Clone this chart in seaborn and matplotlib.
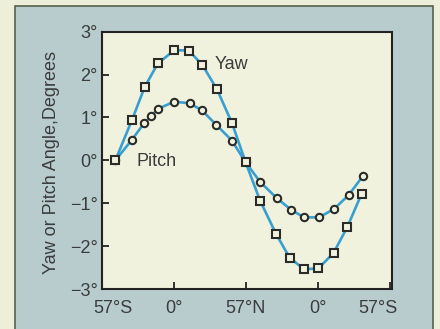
import numpy as np
import pandas as pd
import matplotlib
matplotlib.use("Agg")
import matplotlib.pyplot as plt
import matplotlib.transforms as mtransforms
from matplotlib.patches import Rectangle
import seaborn as sns

# orbit position (0 = 57°S, 1 = 0°, 2 = 57°N, 3 = 0°, 4 = 57°S)
yaw_x = [0.19, 0.42, 0.60, 0.78, 1.01, 1.21, 1.40, 1.60, 1.81, 2.00,
         2.20, 2.42, 2.61, 2.81, 3.01, 3.22, 3.41, 3.61]
yaw_deg = [0.00, 0.94, 1.72, 2.26, 2.57, 2.56, 2.22, 1.66, 0.87, -0.05,
           -0.94, -1.71, -2.27, -2.54, -2.52, -2.16, -1.56, -0.78]

pitch_x = [0.19, 0.42, 0.59, 0.69, 0.78, 1.01, 1.22, 1.39, 1.59, 1.81,
           2.00, 2.20, 2.43, 2.63, 2.81, 3.02, 3.23, 3.43, 3.63]
pitch_deg = [0.00, 0.48, 0.87, 1.04, 1.20, 1.37, 1.33, 1.17, 0.83, 0.46,
             -0.05, -0.50, -0.88, -1.15, -1.33, -1.33, -1.13, -0.81, -0.36]

x_ticks = [0, 1, 2, 3, 4]
x_labels = ["57°S", "0°", "57°N", "0°", "57°S"]
y_ticks = [-3, -2, -1, 0, 1, 2, 3]
y_labels = ["−3°", "−2°", "−1°", "0°", "1°", "2°", "3°"]

df = pd.concat([
    pd.DataFrame({"pos": pitch_x, "angle": pitch_deg, "series": "Pitch"}),
    pd.DataFrame({"pos": yaw_x, "angle": yaw_deg, "series": "Yaw"}),
])

outer_bg = "#edefd8"
panel_bg = "#b8ccce"
plot_bg = "#f1f2de"
line_col = "#389fcf"
text_col = "#3c3c3c"

sns.set_style("ticks")
plt.rcParams["font.family"] = ["Liberation Sans", "DejaVu Sans"]

fig = plt.figure(figsize=(4.4, 3.29), dpi=100, facecolor=outer_bg)
# blue-grey card behind the plot
fig.patches.append(Rectangle((15 / 440, -0.05), (432.7 - 15) / 440, 1.05 - 6 / 329,
                             transform=fig.transFigure, facecolor=panel_bg,
                             edgecolor="#59604f", linewidth=1.2, zorder=-1))

ax = fig.add_axes([101.7 / 440, 1 - 289 / 329, 290 / 440, (289 - 31.7) / 329])
ax.set_zorder(1)
ax.set_facecolor(plot_bg)

sns.lineplot(data=df, x="pos", y="angle", style="series", style_order=["Pitch", "Yaw"],
             markers={"Pitch": "o", "Yaw": "s"}, dashes=False, estimator=None,
             color=line_col, linewidth=1.9, markersize=5.3, markeredgewidth=1.5,
             markeredgecolor="#2b2b28", markerfacecolor=plot_bg, legend=False, ax=ax)

ax.set_xlim(0, 4.028)
ax.set_ylim(-3, 3)
ax.set_xticks(x_ticks)
ax.set_xticklabels(x_labels)
ax.set_yticks(y_ticks)
ax.set_yticklabels(y_labels)
ax.tick_params(direction="in", length=5, width=1.3, color="#222222",
               labelsize=13, labelcolor=text_col)
ax.tick_params(axis="x", pad=8)
ax.tick_params(axis="y", pad=3)
for s in ax.spines.values():
    s.set_linewidth(1.5)
    s.set_color("#222222")

# edge labels sit inside the frame in the original
xl = ax.get_xticklabels()
xl[0].set_transform(xl[0].get_transform() + mtransforms.ScaledTranslation(11 / 100, 0, fig.dpi_scale_trans))
xl[-1].set_transform(xl[-1].get_transform() + mtransforms.ScaledTranslation(-12 / 100, 0, fig.dpi_scale_trans))

ax.set_xlabel("")
ax.set_ylabel("Yaw or Pitch Angle,Degrees", fontsize=13, color=text_col)
ax.yaxis.set_label_coords(60 / 440, 1 - 162.5 / 329, transform=fig.transFigure)

ax.text(1.574, 2.13, "Yaw", fontsize=13, color=text_col, ha="left", va="baseline")
ax.text(0.486, -0.13, "Pitch", fontsize=13, color=text_col, ha="left", va="baseline")

fig.savefig("out.png", dpi=100, facecolor=outer_bg)
